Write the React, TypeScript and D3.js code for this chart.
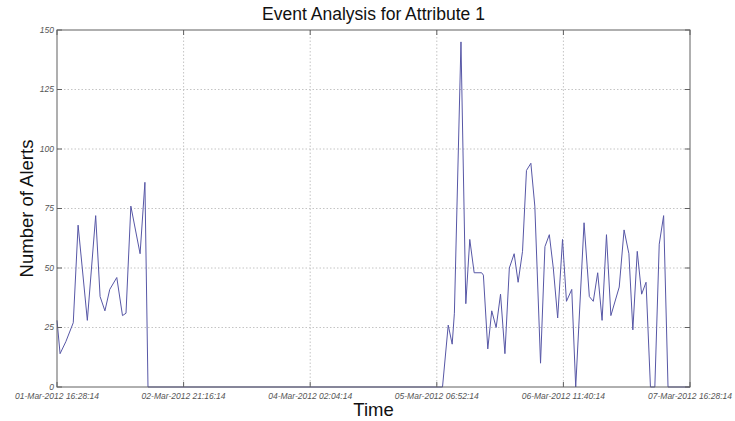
import * as d3 from "d3";

// hours after 01-Mar-2012 16:28:14, alert counts
const hours = [
  0, 0.7, 2, 3.7, 4.8, 6.9, 8.8, 9.8, 10.9, 12, 13.6, 14.9, 15.7, 16.8, 18.9, 20, 20.7,
  87.7, 89, 89.9, 90.4, 91.9, 93, 93.9, 94.9, 96.6, 97, 98, 98.9, 99.9, 100.9, 101.9,
  102.9, 104, 104.9, 105.9, 106.8, 107.8, 108.7, 110, 111, 112, 112.9, 113.9, 115,
  115.9, 117.1, 118, 119.9, 121.1, 122, 123, 124, 125, 126, 127.9, 129, 130.1, 131,
  132, 133, 134, 135, 136, 137, 138, 139, 144,
];
const alerts = [
  28, 14, 19, 27, 68, 28, 72, 38, 32, 41, 46, 30, 31, 76, 56, 86, 0,
  0, 26, 18, 31, 145, 35, 62, 48, 48, 47, 16, 32, 25, 39, 14,
  50, 56, 44, 57, 91, 94, 76, 10, 59, 64, 50, 29, 62,
  36, 41, 0, 69, 38, 36, 48, 28, 64, 30, 42, 66, 56, 24,
  57, 39, 44, 0, 0, 60, 72, 0, 0,
];
const xTickLabels = [
  "01-Mar-2012 16:28:14",
  "02-Mar-2012 21:16:14",
  "04-Mar-2012 02:04:14",
  "05-Mar-2012 06:52:14",
  "06-Mar-2012 11:40:14",
  "07-Mar-2012 16:28:14",
];
const yTicks = [0, 25, 50, 75, 100, 125, 150];

const W = 735;
const H = 421;
const m = { left: 57, right: 45, top: 30, bottom: 34 };
const font = "'Liberation Sans', Arial, sans-serif";

export default function App() {
  const x = d3.scaleLinear().domain([0, 144]).range([m.left, W - m.right]);
  const y = d3.scaleLinear().domain([0, 150]).range([H - m.bottom, m.top]);
  const xTicks = xTickLabels.map((_, i) => i * 28.8);

  const line = d3
    .line<number>()
    .x((_, i) => x(hours[i]))
    .y((d) => y(d));

  const x0 = x.range()[0];
  const x1 = x.range()[1];
  const y0 = y.range()[0];
  const y1 = y.range()[1];

  return (
    <svg
      width={W}
      height={H}
      style={{ position: "absolute", left: 0, top: 0, background: "#fff" }}
    >
      {/* grid */}
      <g stroke="#c4c4c4" strokeWidth={1} strokeDasharray="1.5,2">
        {xTicks.slice(1, -1).map((t) => (
          <line key={t} x1={x(t)} x2={x(t)} y1={y1} y2={y0} />
        ))}
        {yTicks.slice(1, -1).map((t) => (
          <line key={t} x1={x0} x2={x1} y1={y(t)} y2={y(t)} />
        ))}
      </g>
      <path
        d={line(alerts) ?? ""}
        fill="none"
        stroke="#5757a6"
        strokeWidth={1}
        strokeLinejoin="round"
      />
      {/* axes box and ticks */}
      <g stroke="#606060" strokeWidth={1} fill="none">
        <rect x={x0} y={y1} width={x1 - x0} height={y0 - y1} />
        {xTicks.map((t) => (
          <g key={t}>
            <line x1={x(t)} x2={x(t)} y1={y0} y2={y0 - 5} />
            <line x1={x(t)} x2={x(t)} y1={y1} y2={y1 + 5} />
          </g>
        ))}
        {yTicks.map((t) => (
          <g key={t}>
            <line x1={x0} x2={x0 + 5} y1={y(t)} y2={y(t)} />
            <line x1={x1} x2={x1 - 5} y1={y(t)} y2={y(t)} />
          </g>
        ))}
      </g>
      <g fontFamily={font} fontSize={8.5} fontStyle="italic" fill="#555">
        {xTicks.map((t, i) => (
          <text key={t} x={x(t)} y={y0 + 12} textAnchor="middle">
            {xTickLabels[i]}
          </text>
        ))}
        {yTicks.map((t) => (
          <text key={t} x={x0 - 3} y={y(t) + 2.5} textAnchor="end">
            {t}
          </text>
        ))}
      </g>
      <text
        x={(x0 + x1) / 2}
        y={20}
        textAnchor="middle"
        fontFamily={font}
        fontSize={17.5}
        fill="#111"
      >
        Event Analysis for Attribute 1
      </text>
      <text
        x={(x0 + x1) / 2}
        y={416}
        textAnchor="middle"
        fontFamily={font}
        fontSize={18.5}
        fill="#111"
      >
        Time
      </text>
      <text
        transform={`translate(33,${(y0 + y1) / 2}) rotate(-90)`}
        textAnchor="middle"
        fontFamily={font}
        fontSize={18.5}
        fill="#111"
      >
        Number of Alerts
      </text>
    </svg>
  );
}
